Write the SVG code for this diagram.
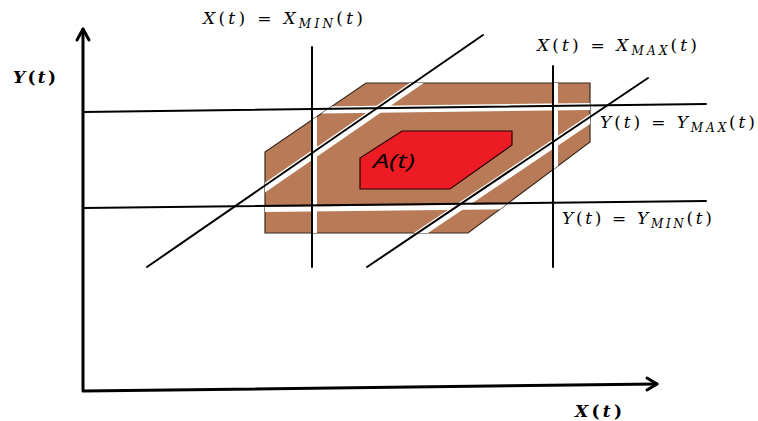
<svg xmlns="http://www.w3.org/2000/svg" width="758" height="421" viewBox="0 0 758 421">
<style>
.ln{stroke:#000;stroke-width:2;fill:none;stroke-linecap:round}
.ax{stroke:#000;stroke-width:3;fill:none;stroke-linecap:round;stroke-linejoin:round}
.gap{stroke:#fff;fill:none}
.lbl{font-family:"DejaVu Serif","Liberation Serif",serif;font-size:17px;fill:#000}
.it{font-style:italic}
.sub{font-size:12px;font-style:italic}
.bold{font-weight:bold}
</style>
<defs>
<clipPath id="hexclip"><polygon points="265,152 366,83 590,83 590,142 468,233 265,233"/></clipPath>
</defs>
<rect width="758" height="421" fill="#fff"/>
<g id="region">
<polygon points="265,152 366,83 590,83 590,142 468,233 265,233" fill="#b97a57" stroke="#3a2a20" stroke-width="1.2"/>
<g clip-path="url(#hexclip)">
<line class="gap" x1="82" y1="113" x2="706" y2="105" stroke-width="7"/>
<line class="gap" x1="82" y1="211.5" x2="706" y2="204.5" stroke-width="5"/>
<line class="gap" x1="314" y1="40" x2="314" y2="270" stroke-width="6"/>
<line class="gap" x1="555.5" y1="40" x2="555.5" y2="270" stroke-width="5"/>
<line class="gap" x1="148" y1="268.5" x2="484" y2="36.5" stroke-width="8"/>
<line class="gap" x1="368" y1="268.5" x2="649" y2="79.5" stroke-width="8"/>
</g>
</g>
<g id="A">
<polygon points="402,131 512,131 512,145 450,189 360,189 360,158" fill="#ed1c24" stroke="#2a0000" stroke-width="1.2"/>
<text x="373" y="168" font-family="'Open Sans','Liberation Sans',sans-serif" font-style="italic" font-size="20" textLength="42" lengthAdjust="spacingAndGlyphs">A(t)</text>
</g>
<g id="connectors">
<line class="ln" x1="312" y1="47" x2="312" y2="267"/>
<line class="ln" x1="553" y1="66" x2="553" y2="267"/>
<line class="ln" x1="83" y1="112" x2="706" y2="104"/>
<line class="ln" x1="83" y1="208" x2="706" y2="201"/>
<line class="ln" x1="147" y1="267" x2="483" y2="35"/>
<line class="ln" x1="367" y1="267" x2="648" y2="78"/>
</g>
<g id="axes">
<polyline class="ax" points="83,29 83,391 657,384"/>
<polyline class="ax" points="77,40 83,29 89,40"/>
<polyline class="ax" points="647,378 657,384 647,390"/>
</g>
<g id="labels">
<text class="lbl" x="203" y="24" textLength="160" lengthAdjust="spacing"><tspan class="it">X</tspan>(<tspan class="it">t</tspan>) = <tspan class="it">X</tspan><tspan class="sub" dy="4">MIN</tspan><tspan dy="-4">(</tspan><tspan class="it">t</tspan>)</text>
<text class="lbl" x="537" y="51" textLength="160" lengthAdjust="spacing"><tspan class="it">X</tspan>(<tspan class="it">t</tspan>) = <tspan class="it">X</tspan><tspan class="sub" dy="4">MAX</tspan><tspan dy="-4">(</tspan><tspan class="it">t</tspan>)</text>
<text class="lbl" x="600" y="128" textLength="155" lengthAdjust="spacing"><tspan class="it">Y</tspan>(<tspan class="it">t</tspan>) = <tspan class="it">Y</tspan><tspan class="sub" dy="4">MAX</tspan><tspan dy="-4">(</tspan><tspan class="it">t</tspan>)</text>
<text class="lbl" x="562" y="224" textLength="150" lengthAdjust="spacing"><tspan class="it">Y</tspan>(<tspan class="it">t</tspan>) = <tspan class="it">Y</tspan><tspan class="sub" dy="4">MIN</tspan><tspan dy="-4">(</tspan><tspan class="it">t</tspan>)</text>
<text class="lbl bold" x="13" y="83" textLength="43" lengthAdjust="spacing"><tspan class="it">Y</tspan>(<tspan class="it">t</tspan>)</text>
<text class="lbl bold" x="575" y="417" textLength="47" lengthAdjust="spacing"><tspan class="it">X</tspan>(<tspan class="it">t</tspan>)</text>
</g>
</svg>
